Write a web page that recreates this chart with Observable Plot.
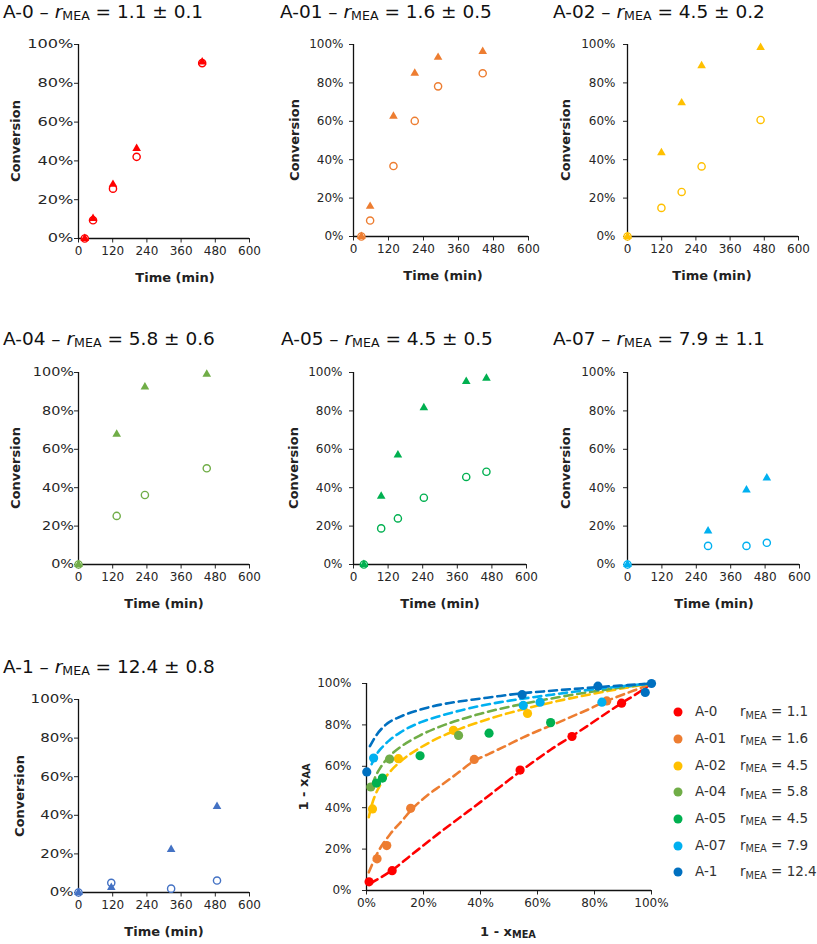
<!DOCTYPE html>
<html><head><meta charset="utf-8">
<script src="https://cdn.jsdelivr.net/npm/d3@7"></script>
<script src="https://cdn.jsdelivr.net/npm/@observablehq/plot@0.6"></script>
<style>
body{margin:0;background:#fff;}
#root{position:relative;width:817px;height:944px;overflow:hidden;font-family:"DejaVu Sans",sans-serif;color:#222;}
.abs{position:absolute;white-space:nowrap;}
.title{font-size:18.5px;line-height:1;color:#111;}
.title sub{font-size:0.68em;vertical-align:baseline;position:relative;top:0.2em;}
.axlab{font-size:13px;font-weight:bold;line-height:1;color:#222;transform:translate(-50%,-50%);}
.axlab sub{font-size:0.75em;vertical-align:baseline;position:relative;top:0.25em;}
.ylab{transform:translate(-50%,-50%) rotate(-90deg);}
.leg{font-size:13.5px;line-height:1;color:#333;transform:translateY(-50%);}
.leg sub{font-size:0.72em;vertical-align:baseline;position:relative;top:0.25em;}
.legdot{position:absolute;width:9px;height:9px;border-radius:50%;transform:translate(-50%,-50%);}
</style></head><body><div id="root"></div>
<script>
// ---------- labels ----------
const names  = ["A-0","A-01","A-02","A-04","A-05","A-07","A-1"];
const rMEA   = ["1.1","1.6","4.5","5.8","4.5","7.9","12.4"];
const rErr   = ["0.1","0.5","0.2","0.6","0.5","1.1","0.8"];
const timeTicks = [0,120,240,360,480,600];
const pctTicks  = [0,20,40,60,80,100];

// ---------- kinetics: time (min), AA conversion (triangles, %), MEA conversion (circles, %) ----------
const a0_time  = [22, 51, 121, 204, 434];
const a0_aa    = [0, 10.3, 27.9, 46.4, 91.0];
const a0_mea   = [0, 9.4, 25.7, 42.1, 90.4];

const a01_time = [27, 57, 137, 210, 290, 443];
const a01_aa   = [0, 15.7, 62.6, 85.0, 93.3, 96.4];
const a01_mea  = [0, 8.3, 36.7, 60.2, 78.2, 85.0];

const a02_time = [0, 119, 190, 260, 467];
const a02_aa   = [0, 43.6, 69.6, 88.9, 98.4];
const a02_mea  = [0, 14.9, 23.2, 36.5, 60.7];

const a04_time = [0, 134, 233, 450];
const a04_aa   = [0, 67.8, 92.4, 99.1];
const a04_mea  = [0, 25.3, 36.2, 50.1];

const a05_time = [36, 96, 154, 244, 391, 461];
const a05_aa   = [0, 35.5, 57.0, 81.6, 95.3, 97.0];
const a05_mea  = [0, 18.8, 24.0, 34.8, 45.6, 48.3];

const a07_time = [0, 281, 415, 486];
const a07_aa   = [0, 17.5, 38.8, 45.0];
const a07_mea  = [0, 9.7, 9.7, 11.3];

const a1_time  = [0, 115, 325, 486];
const a1_aa    = [0, 2.6, 22.3, 44.6];
const a1_mea   = [0, 5.0, 2.0, 6.2];

// ---------- 1 - xMEA vs 1 - xAA (points, %) ----------
const s0_x  = [0.9, 9.0, 53.9, 72.1, 89.5];          const s0_y  = [4.2, 9.6, 58.2, 74.4, 90.5];
const s01_x = [3.7, 7.1, 15.5, 37.8, 84.3];          const s01_y = [15.3, 21.7, 39.7, 63.3, 91.6];
const s02_x = [2.1, 11.2, 30.5, 56.5];               const s02_y = [39.4, 63.7, 77.4, 85.5];
const s04_x = [1.5, 8.1, 32.3];                      const s04_y = [50.0, 63.5, 74.9];
const s05_x = [3.5, 5.6, 18.8, 43.0, 64.6];          const s05_y = [51.9, 54.3, 65.1, 76.0, 81.1];
const s07_x = [2.5, 55.0, 60.9, 82.6];               const s07_y = [64.0, 89.4, 91.0, 91.0];
const s1_x  = [0.1, 54.6, 81.2, 97.8, 100];          const s1_y  = [57.3, 94.6, 98.7, 95.7, 100];

// ---------- fitted dashed curves (%) ----------
const f0_x  = [1.4, 9, 15.4, 24.8, 33, 41.2, 48.2, 53.9, 58.7, 64.6, 72.1, 78.6, 84.5, 89.5, 95, 100];
const f0_y  = [3.5, 9.8, 16.8, 27, 35.5, 44, 51.5, 57.5, 62.3, 68, 74.6, 80.5, 86, 90.5, 95.2, 100];
const f01_x = [0.8, 3.7, 8.4, 12.5, 16.6, 21.3, 26.6, 31.8, 37.6, 43, 48.5, 55, 61, 67, 72, 77.4, 83.3, 88, 93.8, 97.3, 100];
const f01_y = [8.8, 17.7, 27.4, 33.8, 40.2, 45.9, 51.2, 56.5, 62.5, 66.0, 69.6, 74.0, 77.6, 81.0, 84.0, 87.2, 91.0, 93.6, 96.6, 98.4, 100];
const f02_x = [0.8, 1.5, 2, 3, 5, 8, 12, 19, 26, 33, 40, 47, 54, 65, 75, 90, 100];
const f02_y = [35.4, 39.5, 42, 45.9, 51.4, 57, 62.4, 69.1, 74.2, 78.2, 81.6, 84.6, 87.2, 90.9, 93.8, 97.7, 100];
const f04_x = [2, 3, 5, 6.7, 8, 11.9, 18.9, 26, 33, 40, 47, 54, 65, 75, 85, 91.5, 100];
const f04_y = [51, 54.6, 59.6, 62.8, 64.8, 69.3, 75, 79.3, 82.6, 85.4, 87.8, 89.9, 92.8, 95.2, 97.2, 98.5, 100];
const f07_x = [1.8, 3.2, 5.5, 8, 11.9, 18.9, 26, 33, 40, 47, 54, 65, 75, 85, 91.5, 100];
const f07_y = [61, 65, 69.2, 72.5, 76.4, 81.2, 84.4, 87, 89.2, 91, 92.5, 94.6, 96.4, 98, 98.9, 100];
const f1_x  = [1.2, 3.2, 6.7, 11.9, 18.9, 26, 33, 40, 47, 54, 65, 75, 85, 91.5, 100];
const f1_y  = [69.7, 74.5, 80.0, 84.0, 87.4, 89.8, 91.4, 92.7, 94.0, 95.2, 96.5, 97.6, 98.6, 99.2, 100];

// ---------- styling ----------
const colors = ["#FF0000","#ED7D31","#FFC000","#70AD47","#00B050","#00B0F0","#0070C0"];
const panelColors = ["#FF0000","#ED7D31","#FFC000","#70AD47","#00B050","#00B0F0","#4472C4"];

const kinetics = [
  [a0_time,a0_aa,a0_mea],[a01_time,a01_aa,a01_mea],[a02_time,a02_aa,a02_mea],
  [a04_time,a04_aa,a04_mea],[a05_time,a05_aa,a05_mea],[a07_time,a07_aa,a07_mea],[a1_time,a1_aa,a1_mea]
];
const scatter = [[s0_x,s0_y],[s01_x,s01_y],[s02_x,s02_y],[s04_x,s04_y],[s05_x,s05_y],[s07_x,s07_y],[s1_x,s1_y]];
const fits = [[f0_x,f0_y,0],[f01_x,f01_y,1],[f02_x,f02_y,2],[f04_x,f04_y,3],[f07_x,f07_y,5],[f1_x,f1_y,6]];

// page layout (px) of each small panel: axis pixel extents, y-label gap/stretch, text anchors
const layout = [
  {x0:78, x1:249, y100:44, y0:238, pad:1,   sx:1.35, tx:3,   ty:2.5,  yl:15,  xl:175},
  {x0:353,x1:528, y100:44, y0:236, pad:6,   sx:1,    tx:280, ty:2.5,  yl:294, xl:443},
  {x0:627,x1:798, y100:44, y0:236, pad:8,   sx:1,    tx:553, ty:2.5,  yl:565, xl:712},
  {x0:78, x1:249, y100:372,y0:564, pad:0.5, sx:1.2,  tx:3,   ty:329.5,yl:15,  xl:164},
  {x0:353,x1:526, y100:372,y0:564, pad:7,   sx:1,    tx:281, ty:329.5,yl:293, xl:440},
  {x0:627,x1:799, y100:372,y0:564, pad:8,   sx:1,    tx:553, ty:329.5,yl:565, xl:714},
  {x0:78, x1:249, y100:699,y0:892, pad:1,   sx:1.25, tx:3,   ty:657.5,yl:19,  xl:164}
];

const root = document.getElementById("root");
function place(el, left, top){ const d=document.createElement("div"); d.className="abs"; d.style.left=left+"px"; d.style.top=top+"px"; d.appendChild(el); root.appendChild(d); return d; }
function html(cls, left, top, inner){ const d=document.createElement("div"); d.className="abs "+cls; d.style.left=left+"px"; d.style.top=top+"px"; d.innerHTML=inner; root.appendChild(d); return d; }

// widen y tick labels horizontally, keeping their right edge fixed
function stretchYLabels(svg, s){
  if (s === 1) return;
  svg.querySelectorAll('g[aria-label="y-axis tick label"] text').forEach(t => {
    try {
      const b = t.getBBox();
      const c = t.transform && t.transform.baseVal.consolidate();
      const R = (c ? c.matrix.e : 0) + b.x + b.width;
      const g = document.createElementNS("http://www.w3.org/2000/svg","g");
      g.setAttribute("transform", `translate(${R},0) scale(${s},1) translate(${-R},0)`);
      t.parentNode.insertBefore(g, t); g.appendChild(t);
    } catch(e) {}
  });
}

const ML=75, MT=15, MR=15, MB=30;
const baseStyle = {fontFamily:"DejaVu Sans", fontSize:"12px", color:"#262626", background:"none", overflow:"visible"};

function axes(xTicks, xFmt, ypad){
  return [
    Plot.axisX(xTicks, {tickSize:4.5, tickPadding:3.5, tickFormat:xFmt, label:null, fontSize:12}),
    Plot.axisY(pctTicks, {tickSize:4, tickPadding:ypad, tickFormat:d=>d+"%", label:null, fontSize:12}),
    Plot.ruleY([0], {stroke:"#111", strokeWidth:1.3}),
    Plot.ruleX([0], {stroke:"#111", strokeWidth:1.3})
  ];
}

kinetics.forEach(([t, aa, mea], i) => {
  const L = layout[i];
  const left = L.x0 - ML, top = L.y100 - MT;
  const width = (L.x1 - left) + MR, height = (L.y0 - top) + MB;
  const c = panelColors[i];
  const circ = t.map((tt,k)=>({t:tt, v:mea[k]}));
  const tri  = t.map((tt,k)=>({t:tt, v:aa[k]}));
  const svg = Plot.plot({
    width, height, marginLeft:ML, marginTop:MT, marginRight:MR, marginBottom:MB,
    x:{domain:[0,600]}, y:{domain:[0,100]},
    style: baseStyle,
    marks:[
      ...axes(timeTicks, d=>String(d), L.pad),
      Plot.dot(circ, {x:"t", y:"v", symbol:"circle", r:3.6, stroke:c, fill:"white", strokeWidth:1.4}),
      Plot.dot(tri,  {x:"t", y:"v", symbol:"triangle", r:3.2, fill:c, stroke:"none"})
    ]
  });
  place(svg, left, top);
  stretchYLabels(svg, L.sx);
  html("title", L.tx, L.ty, `${names[i]} – <i>r</i><sub>MEA</sub> = ${rMEA[i]} ± ${rErr[i]}`);
  html("axlab ylab", L.yl, (L.y100+L.y0)/2, "Conversion");
  html("axlab", L.xl, L.y0 + 39, "Time (min)");
});

// ---------- selectivity panel ----------
{
  const x0=366, x1=651, y100=683, y0=890;
  const left = x0 - ML, top = y100 - MT;
  const width = (x1 - left) + 20, height = (y0 - top) + MB;
  const lineMarks = fits.map(([fx, fy, ci]) =>
    Plot.line(fx.map((v,k)=>({x:v, y:fy[k]})), {x:"x", y:"y", stroke:colors[ci], strokeWidth:2.6, strokeDasharray:"8,5", curve:"monotone-x"}));
  const dotMarks = scatter.map(([sx, sy], ci) =>
    Plot.dot(sx.map((v,k)=>({x:v, y:sy[k]})), {x:"x", y:"y", r:4.6, fill:colors[ci], stroke:"none"}));
  const svg = Plot.plot({
    width, height, marginLeft:ML, marginTop:MT, marginRight:20, marginBottom:MB,
    x:{domain:[0,100]}, y:{domain:[0,100]},
    style: baseStyle,
    marks:[ ...axes(pctTicks, d=>d+"%", 11), ...lineMarks, ...dotMarks ]
  });
  place(svg, left, top);
  html("axlab ylab", 303, 787, "1 - x<sub>AA</sub>");
  html("axlab", 508, 931, "1 - x<sub>MEA</sub>");

  // legend
  names.forEach((n, i) => {
    const y = 712.3 + i*26.67;
    const dot = document.createElement("div");
    dot.className = "legdot"; dot.style.left = "678px"; dot.style.top = y+"px"; dot.style.background = colors[i];
    root.appendChild(dot);
    html("leg", 695, y, n);
    html("leg", 740, y, `r<sub>MEA</sub> = ${rMEA[i]}`);
  });
}
</script></body></html>
